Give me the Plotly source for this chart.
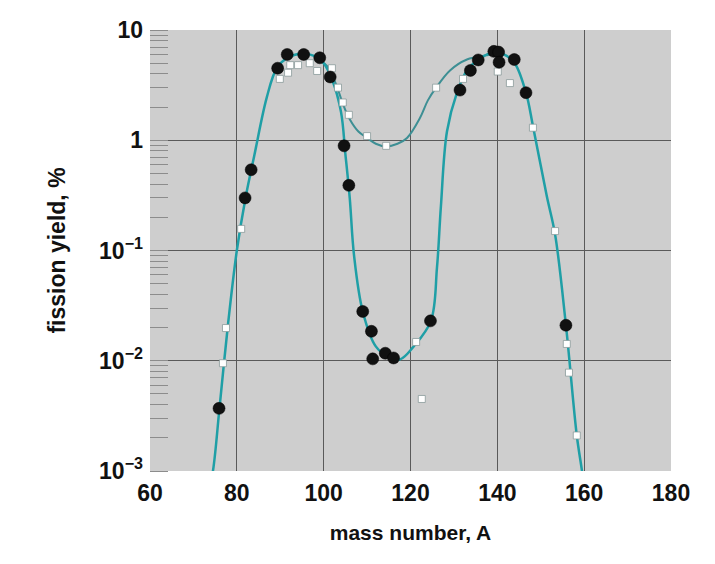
import plotly.graph_objects as go

# Filled circles (measured yields)
black_A = [75.9, 81.9, 83.3, 89.4, 91.6, 95.4, 99.1, 101.5, 104.7, 105.8, 109.0, 111.0,
           111.3, 114.2, 116.1, 124.6, 131.4, 133.8, 135.6, 139.2, 140.3, 140.4, 143.9, 146.6, 155.8]
black_Y = [0.0037, 0.30, 0.54, 4.5, 6.0, 6.0, 5.6, 3.75, 0.89, 0.39, 0.028, 0.0185,
           0.0104, 0.0117, 0.0106, 0.023, 2.85, 4.3, 5.35, 6.4, 6.3, 5.1, 5.4, 2.7, 0.021]

# Open squares
white_A = [76.8, 77.5, 81.0, 89.9, 91.8, 92.3, 94.1, 96.8, 98.5, 101.9, 103.3, 104.4,
           105.8, 110.0, 114.4, 121.3, 122.6, 125.9, 132.1, 140.1, 142.9, 148.2, 153.3,
           156.0, 156.5, 158.3]
white_Y = [0.0095, 0.0198, 0.157, 3.6, 4.1, 4.8, 4.8, 5.0, 4.25, 4.5, 3.0, 2.2,
           1.7, 1.09, 0.89, 0.0148, 0.0045, 3.0, 3.6, 4.2, 3.3, 1.3, 0.15,
           0.0142, 0.0078, 0.0021]

# Curve through filled circles (deep valley)
curve1_A = [73.3, 74.5, 76, 78, 80, 82, 84, 86.9, 89.2, 92, 95, 98, 100, 102, 104, 105,
            106, 107, 109, 112, 115, 117.6, 120.6, 124.7, 126.1, 127, 128.4, 130.7, 133,
            136, 139, 141.5, 144, 146.6, 148.2, 151.4, 153.3, 155.8, 158.3, 159.5, 160.2]
curve1_Y = [0.0006, 0.001, 0.0037, 0.022, 0.1, 0.3, 0.72, 2.45, 4.5, 5.7, 6.1, 5.8, 5.0,
            3.5, 1.8, 0.75, 0.3, 0.09, 0.028, 0.0135, 0.0108, 0.0103, 0.0133, 0.023, 0.07,
            0.25, 1.2, 2.7, 4.3, 5.5, 6.3, 6.0, 5.0, 2.7, 1.35, 0.31, 0.14, 0.021, 0.0021,
            0.001, 0.0006]

# Curve through open squares (shallow valley)
curve2_A = [99, 101, 103, 104.5, 106, 108, 110, 112, 114.4, 117, 119.2, 122.2, 124, 125.9,
            129.1, 133, 137.6, 140]
curve2_Y = [5.4, 4.6, 3.1, 2.1, 1.55, 1.2, 1.05, 0.93, 0.88, 0.93, 1.05, 1.6, 2.3, 3.0,
            4.3, 5.4, 5.9, 6.1]

x_ticks = [60, 80, 100, 120, 140, 160, 180]
y_ticks = [0.001, 0.01, 0.1, 1, 10]
y_labels = ["10<sup>−3</sup>", "10<sup>−2</sup>", "10<sup>−1</sup>", "1", "10"]

font_family = "Liberation Sans, Arial, sans-serif"
teal = "#1f9fa6"

fig = go.Figure()
fig.add_trace(go.Scatter(x=curve2_A, y=curve2_Y, mode="lines", line_shape="spline",
                         line=dict(color="#3d8f94", width=2), hoverinfo="skip"))
fig.add_trace(go.Scatter(x=curve1_A, y=curve1_Y, mode="lines", line_shape="spline",
                         line=dict(color=teal, width=2.5), hoverinfo="skip"))
fig.add_trace(go.Scatter(x=white_A, y=white_Y, mode="markers",
                         marker=dict(symbol="square", size=7, color="white",
                                     line=dict(color="#8a9a9a", width=0.8))))
fig.add_trace(go.Scatter(x=black_A, y=black_Y, mode="markers",
                         marker=dict(symbol="circle", size=12, color="#111111",
                                     line=dict(color="#000000", width=0.5))))

# page body has an 8px default margin, so the figure is 8px smaller and offsets shift
fig.update_layout(
    width=707, height=556,
    margin=dict(l=142, r=44, t=22, b=93),
    paper_bgcolor="white",
    plot_bgcolor="#cecece",
    showlegend=False,
    font=dict(family=font_family, color="#111111"),
)
fig.update_xaxes(
    range=[60, 180], tickvals=x_ticks, ticktext=[str(v) for v in x_ticks],
    showgrid=True, gridcolor="#5a5a5a", gridwidth=1, zeroline=False,
    showline=False, ticks="", automargin=False, ticklabelstandoff=6,
    tickfont=dict(size=23, family=font_family, weight="bold"),
    title=dict(text="<b>mass number, A</b>", font=dict(size=21, family=font_family),
               standoff=20),
)
fig.update_yaxes(
    type="log", range=[-3, 1], tickvals=y_ticks, ticktext=y_labels,
    showgrid=True, gridcolor="#5a5a5a", gridwidth=1, zeroline=False,
    showline=False, ticks="", automargin=False, ticklabelstandoff=6,
    minor=dict(ticks="inside", ticklen=18, tickcolor="#8c8c8c", tickwidth=1,
               dtick="D1", showgrid=False),
    tickfont=dict(size=23, family=font_family, weight="bold"),
    title=dict(text="<b>fission yield, %</b>", font=dict(size=23, family=font_family),
               standoff=26),
)

fig.write_html("out.html")
